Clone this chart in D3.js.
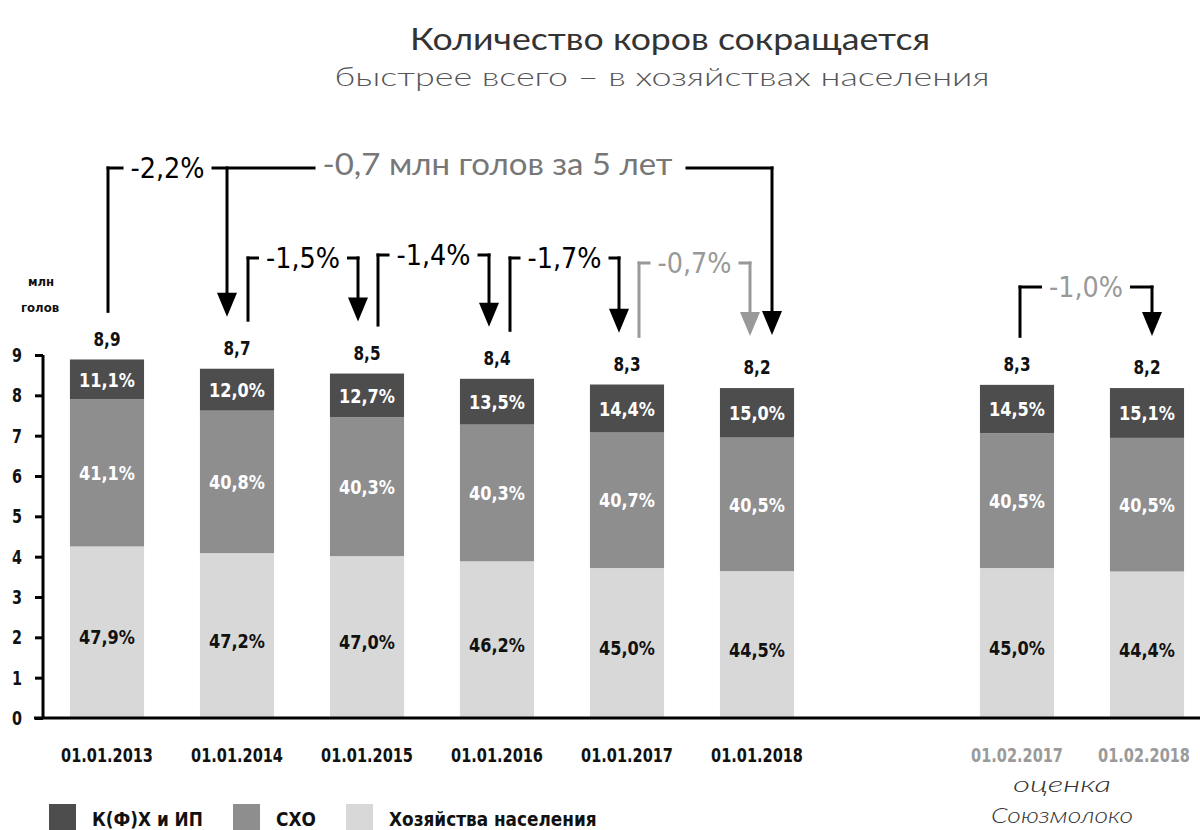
<!DOCTYPE html>
<html><head><meta charset="utf-8">
<script src="https://cdn.jsdelivr.net/npm/d3@7"></script>
<style>
html,body{margin:0;padding:0;background:#fff;}
svg{display:block;}
.cond{font-family:"DejaVu Sans Condensed","DejaVu Sans",sans-serif;font-stretch:condensed;}
.geo{font-family:Lato,"Open Sans",sans-serif;}
</style></head>
<body>
<svg id="c" width="1200" height="830"></svg>
<script>
// ---- data ----
const dates = ["01.01.2013","01.01.2014","01.01.2015","01.01.2016","01.01.2017","01.01.2018","01.02.2017","01.02.2018"];
const totals = [8.88, 8.66, 8.54, 8.41, 8.26, 8.18, 8.26, 8.18];
const shareKFH = [11.1, 12.0, 12.7, 13.5, 14.4, 15.0, 14.5, 15.1];
const shareSHO = [41.1, 40.8, 40.3, 40.3, 40.7, 40.5, 40.5, 40.5];
const shareHN  = [47.9, 47.2, 47.0, 46.2, 45.0, 44.5, 45.0, 44.4];
const seriesNames = ["К(Ф)Х и ИП","СХО","Хозяйства населения"];
const yTicks = [0,1,2,3,4,5,6,7,8,9];
const changeFrom = [0,1,2,3,4,6];
const changeTo   = [1,2,3,4,5,7];
const changeLabels = ["-2,2%","-1,5%","-1,4%","-1,7%","-0,7%","-1,0%"];
const bigChangeLabel = "-0,7 млн голов за 5 лет";
const title = "Количество коров сокращается";
const subtitle = "быстрее всего – в хозяйствах населения";

// ---- layout ----
const svg = d3.select("#c");
const GAP = "gap";
const slots = dates.slice(0,6).concat([GAP]).concat(dates.slice(6));
const x = d3.scaleBand().domain(slots).range([42,1212]).paddingInner(0.43).paddingOuter(0.215);
const y = d3.scaleLinear().domain([0,9]).range([718,355]);
const cx = d => x(d) + x.bandwidth()/2;
const colors = {hn:"#d8d8d8", sho:"#8e8e8e", kfh:"#4d4d4d"};

function condense(sel, refText, target){
  // uniform horizontal compression of a text group, applied as a transform
  const t = svg.append("text").attr("class", sel.attr("class")).style("font-size", sel.style("font-size")).style("font-weight", sel.style("font-weight")).text(refText);
  const k = target / t.node().getComputedTextLength();
  t.remove();
  sel.each(function(){
    const s = d3.select(this);
    const px = +s.attr("x") || 0, py = +s.attr("y") || 0;
    const prev = s.attr("transform") || "";
    s.attr("x",0).attr("y",0).attr("transform", `${prev} translate(${px},${py}) scale(${k},1)`);
  });
}

// titles
svg.append("text").attr("class","geo").attr("x",670).attr("y",50).attr("text-anchor","middle")
  .style("font-size","30px").style("font-weight",400).attr("fill","#333")
  .attr("textLength",520).attr("lengthAdjust","spacingAndGlyphs").text(title);
svg.append("text").attr("class","geo").attr("x",662).attr("y",86).attr("text-anchor","middle")
  .style("font-size","26px").style("font-weight",300).attr("fill","#555")
  .attr("textLength",655).attr("lengthAdjust","spacingAndGlyphs").text(subtitle);

// data rows
const rows = dates.map((d,i)=>({date:d, total:totals[i],
  hn: totals[i]*shareHN[i]/100, sho: totals[i]*shareSHO[i]/100, kfh: totals[i]*shareKFH[i]/100,
  phn: shareHN[i], psho: shareSHO[i], pkfh: shareKFH[i]}));
const stack = d3.stack().keys(["hn","sho","kfh"]);
const layers = stack(rows);

const g = svg.append("g");
layers.forEach(layer=>{
  g.selectAll(null).data(layer).enter().append("rect")
    .attr("x", d=>x(d.data.date)).attr("width", x.bandwidth())
    .attr("y", d=>y(d[1])).attr("height", d=>y(d[0])-y(d[1]))
    .attr("fill", colors[layer.key]);
});

// percentage labels
const fmtPct = v => d3.format(".1f")(v).replace(".",",") + "%";
const pctKeys = {hn:"phn", sho:"psho", kfh:"pkfh"};
const pctLabels = [];
layers.forEach(layer=>{
  layer.forEach(d=>{
    pctLabels.push({x: cx(d.data.date), y:(y(d[0])+y(d[1]))/2 + (layer.key==="hn"?5:0),
      t: fmtPct(d.data[pctKeys[layer.key]]), fill: layer.key==="hn" ? "#111" : "#fff"});
  });
});
const pl = svg.append("g").selectAll("text").data(pctLabels).enter().append("text")
  .attr("class","cond").attr("x",d=>d.x).attr("y",d=>d.y).attr("dy","0.36em")
  .attr("text-anchor","middle").style("font-size","20px").style("font-weight","bold")
  .attr("fill",d=>d.fill).text(d=>d.t);
condense(pl, "47,9%", 56);

// totals
const fmtTot = v => d3.format(".1f")(v).replace(".",",");
const tl = svg.append("g").selectAll("text").data(rows).enter().append("text")
  .attr("class","cond").attr("x",d=>cx(d.date)).attr("y",d=>y(d.total)-14)
  .attr("text-anchor","middle").style("font-size","19px").style("font-weight","bold")
  .attr("fill","#111").text(d=>fmtTot(d.total));
condense(tl, "8,9", 27);

// y axis
const yAxis = svg.append("g").attr("transform","translate(43,0)")
  .call(d3.axisLeft(y).tickValues(yTicks).tickSize(8).tickPadding(13).tickFormat(d3.format("d")));
yAxis.select(".domain").attr("stroke","#000").attr("stroke-width",3).attr("d","M0,"+y(9)+"V"+y(0));
yAxis.selectAll(".tick line").attr("stroke","#000").attr("stroke-width",3);
const ytl = yAxis.selectAll(".tick text").attr("class","cond").style("font-size","20px").style("font-weight","bold").attr("fill","#111").attr("font-family",null);
condense(ytl, "9", 10);

// x axis baseline
svg.append("line").attr("x1",34).attr("x2",1200).attr("y1",y(0)).attr("y2",y(0)).attr("stroke","#000").attr("stroke-width",3);
const xl = svg.append("g").selectAll("text").data(dates).enter().append("text")
  .attr("class","cond")
  .attr("x",(d,i)=> cx(d) - (i===7 ? 3 : 0))
  .attr("y",762)
  .attr("text-anchor","middle")
  .style("font-size","20px").style("font-weight","bold")
  .attr("fill",(d,i)=> i>=6 ? "#9a9a9a" : "#111").text(d=>d);
condense(xl, "01.01.2013", 92);

const noteX = (cx(dates[6]) + cx(dates[7]))/2 - 20;
svg.append("text").attr("class","geo").attr("x",noteX).attr("y",792).attr("text-anchor","middle")
  .style("font-size","21px").style("font-style","italic").style("font-weight",300).attr("fill","#333")
  .attr("textLength",98).attr("lengthAdjust","spacingAndGlyphs").text("оценка");
svg.append("text").attr("class","geo").attr("x",noteX).attr("y",823).attr("text-anchor","middle")
  .style("font-size","21px").style("font-style","italic").style("font-weight",300).attr("fill","#333")
  .attr("textLength",142).attr("lengthAdjust","spacingAndGlyphs").text("Союзмолоко");

// legend
const legKeys = ["kfh","sho","hn"];
const legX = [49, 233, 346];
const lg = svg.append("g");
legKeys.forEach((k,i)=>{
  lg.append("rect").attr("x",legX[i]).attr("y",804).attr("width",27).attr("height",27).attr("fill",colors[k]);
});
const lt = lg.selectAll("text.lt").data(seriesNames).enter().append("text")
  .attr("class","cond").attr("x",(d,i)=>legX[i]+43).attr("y",826)
  .style("font-size","20px").style("font-weight","bold").attr("fill","#111").text(d=>d);
condense(lt, "К(Ф)Х и ИП", 111);

// ---- change annotations ----
const ann = svg.append("g");
function arrowHead(xp, tip, col){
  ann.append("path").attr("d", `M${xp-10},${tip-24}L${xp+10},${tip-24}L${xp},${tip}Z`).attr("fill",col);
}
function vline(xp, y1, y2, col){
  ann.append("line").attr("x1",xp).attr("x2",xp).attr("y1",y1).attr("y2",y2).attr("stroke",col).attr("stroke-width",3);
}
function hline(x1, x2, yy, col){
  if (x2 > x1) ann.append("line").attr("x1",x1).attr("x2",x2).attr("y1",yy).attr("y2",yy).attr("stroke",col).attr("stroke-width",3);
}
function label(xm, yy, txt, col, size, cls, target){
  const t = ann.append("text").attr("class",cls).attr("x",xm).attr("y",yy).attr("dy","0.36em")
    .attr("text-anchor","middle").style("font-size",size+"px").attr("fill",col).text(txt);
  if (target) t.attr("textLength",target).attr("lengthAdjust","spacingAndGlyphs");
  const w = target || t.node().getComputedTextLength();
  return [xm - w/2, xm + w/2];
}
const levelY = [168, 258, 255, 258, 263, 287];
const leftOff = [1, 11, 11, 13, 12, 3];
const rightOff = [-10, -9, -8, -8, -7, 5];
const lineCol = ["#000","#000","#000","#000","#999","#000"];
const textCol = ["#000","#000","#000","#000","#999","#999"];
const gapT = 7;
changeFrom.forEach((fi,j)=>{
  const ti = changeTo[j];
  const xL = cx(dates[fi]) + leftOff[j];
  const xR = cx(dates[ti]) + rightOff[j];
  const yy = levelY[j];
  const startY = y(totals[fi]) - 47;
  const tipY = y(totals[ti]) - 52;
  const [a,b] = label((xL+xR)/2, yy, changeLabels[j], textCol[j], 29, "cond", 74);
  vline(xL, startY, yy-1.5, lineCol[j]);
  hline(xL-1.5, a-gapT, yy, lineCol[j]);
  if (j === 0) {
    const xBig = cx(dates[5]) + 15;
    const [c,d] = label((xR + xBig)/2 - 2, yy - 4, bigChangeLabel, "#777", 30, "geo", 350);
    hline(b+gapT, c-gapT, yy, lineCol[j]);
    hline(d+gapT+6, xBig+1.5, yy, lineCol[j]);
    vline(xBig, yy-1.5, y(totals[5]) - 70, "#000");
    arrowHead(xBig, y(totals[5]) - 53, "#000");
  } else {
    hline(b+gapT, xR+1.5, yy, lineCol[j]);
  }
  vline(xR, yy-1.5, tipY-20, lineCol[j]);
  arrowHead(xR, tipY, lineCol[j]);
});

// y unit label
svg.append("text").attr("class","cond").attr("x",41).attr("y",286).attr("text-anchor","middle")
  .style("font-size","13px").style("font-weight","bold").attr("fill","#111").text("млн");
svg.append("text").attr("class","cond").attr("x",40).attr("y",312).attr("text-anchor","middle")
  .style("font-size","13px").style("font-weight","bold").attr("fill","#111").text("голов");
</script>
</body></html>
